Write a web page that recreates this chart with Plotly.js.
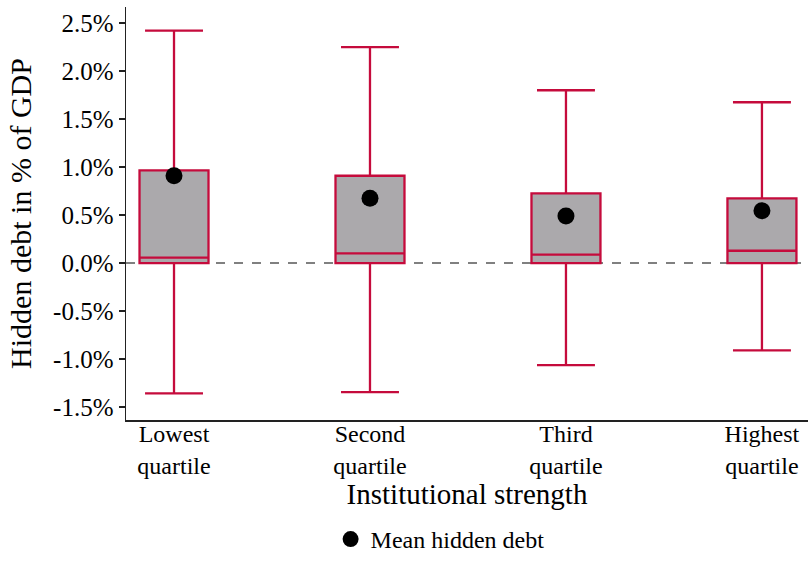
<!DOCTYPE html>
<html>
<head>
<meta charset="utf-8">
<script src="https://cdn.plot.ly/plotly-3.0.1.min.js"></script>
<style>
  html, body { margin: 0; padding: 0; background: #fff; }
  #chart { width: 808px; height: 562px; }
</style>
</head>
<body>
<div id="chart"></div>
<script>
// ----- data (hidden debt, % of GDP) -----
const categories = ["Lowest<br>quartile", "Second<br>quartile", "Third<br>quartile", "Highest<br>quartile"];
const upperWhisker = [2.42, 2.25, 1.80, 1.675];
const q3Values     = [0.966, 0.909, 0.726, 0.674];
const medianValues = [0.056, 0.10, 0.087, 0.128];
const q1Values     = [0.0, 0.0, 0.0, 0.0];
const lowerWhisker = [-1.357, -1.344, -1.0625, -0.91];
const meanValues   = [0.91, 0.674, 0.49, 0.545];
const yTickVals    = [-1.5, -1.0, -0.5, 0, 0.5, 1.0, 1.5, 2.0, 2.5];

const RED  = "#c50b3c";
const GREY = "#aba9ac";
const FONT = "Liberation Serif, Times New Roman, serif";

const boxTrace = {
  type: "box",
  x: categories,
  q1: q1Values,
  median: medianValues,
  q3: q3Values,
  lowerfence: lowerWhisker,
  upperfence: upperWhisker,
  boxpoints: false,
  fillcolor: GREY,
  line: { color: RED, width: 2.3 },
  width: 0.352,
  whiskerwidth: 0.84,
  showlegend: false,
  hoverinfo: "skip"
};

const meanTrace = {
  type: "scatter",
  mode: "markers",
  name: "Mean hidden debt",
  x: categories,
  y: meanValues,
  marker: { color: "#000", size: 17 },
  showlegend: true
};

const layout = {
  width: 808,
  height: 562,
  margin: { l: 126, r: 0, t: 7, b: 142 },
  paper_bgcolor: "#fff",
  plot_bgcolor: "#fff",
  font: { family: FONT, color: "#000", size: 24 },
  xaxis: {
    type: "category",
    automargin: false,
    range: [-0.245, 3.235],
    showline: true, linecolor: "#222", linewidth: 1.5,
    ticks: "", showgrid: false, zeroline: false,
    ticklabelstandoff: -8,
    tickfont: { family: FONT, size: 24, color: "#000" },
    title: { text: "Institutional strength", font: { family: FONT, size: 29, color: "#000" }, standoff: 2 }
  },
  yaxis: {
    automargin: false,
    range: [-1.635, 2.667],
    tickvals: yTickVals,
    ticktext: yTickVals.map(v => v.toFixed(1) + "%"),
    showline: true, linecolor: "#222", linewidth: 1.5,
    ticks: "outside", ticklen: 6, tickcolor: "#222", tickwidth: 1.5,
    showgrid: false, zeroline: false,
    tickfont: { family: FONT, size: 25, color: "#000" },
    title: { text: "Hidden debt in % of GDP", font: { family: FONT, size: 30, color: "#000" }, standoff: 12 }
  },
  shapes: [{
    type: "line", xref: "paper", yref: "y",
    x0: 0, x1: 1, y0: 0, y1: 0,
    line: { color: "#808080", width: 2, dash: "dash" },
    layer: "below"
  }],
  legend: {
    orientation: "h",
    xref: "paper", x: 0.3, xanchor: "left",
    yref: "container", y: -0.012, yanchor: "bottom",
    font: { family: FONT, size: 24, color: "#000" },
    itemwidth: 30
  }
};

Plotly.newPlot("chart", [boxTrace, meanTrace], layout, { displayModeBar: false, staticPlot: true });
</script>
</body>
</html>
